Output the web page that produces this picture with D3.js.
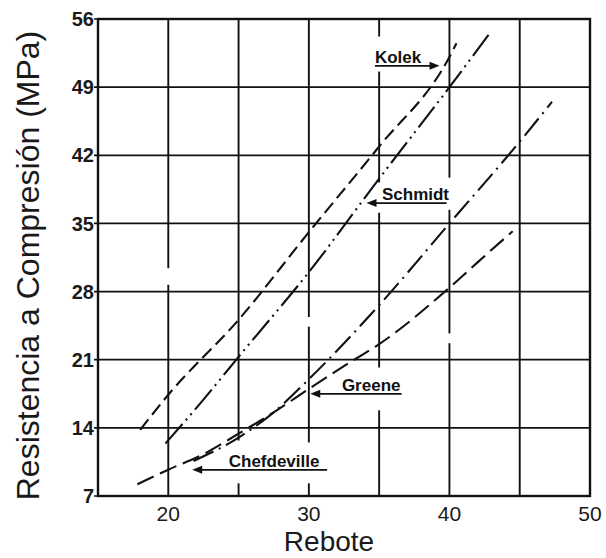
<!DOCTYPE html>
<html><head><meta charset="utf-8">
<script src="https://cdn.jsdelivr.net/npm/d3@7"></script>
<style>
html,body{margin:0;padding:0;background:#fff;}
svg{display:block;font-family:"Liberation Sans",Arial,sans-serif;}
</style></head>
<body>
<script>
// ---- data ----
const yTicks = [7, 14, 21, 28, 35, 42, 49, 56];
const xTickLabels = [20, 30, 40, 50];
const xGrid = [20, 25, 30, 35, 40, 45];

const kolekX = [18, 20, 25, 30, 35, 40, 40.5];
const kolekY = [13.8, 17.4, 25.1, 34.1, 42.9, 52.1, 53.5];

const schmidtX = [19.8, 22.5, 25, 30, 35, 40, 42.9];
const schmidtY = [12.4, 16.9, 21.3, 30.0, 39.6, 49.0, 54.6];

const greeneX = [21.8, 25, 27.5, 30, 35, 40, 45, 47.3];
const greeneY = [10.6, 13.0, 15.6, 19.0, 26.6, 35.0, 43.4, 47.5];

const chefX = [17.8, 20, 22.5, 25, 27.5, 30, 33, 35, 40, 42, 44.5];
const chefY = [8.2, 9.7, 11.3, 13.4, 15.6, 18.0, 20.8, 22.6, 28.4, 31.0, 34.2];

const curveNames = ["Kolek", "Schmidt", "Greene", "Chefdeville"];
// label annotations (data units): text x, baseline y, arrow tip x, underline end x
const labelX = [34.7, 35.2, 32.35, 24.3];
const labelY = [51.5, 37.4, 17.8, 10.0];
const arrowTipX = [39.3, 34.1, 30.1, 21.7];
const lineEndX = [38.9, 39.8, 36.6, 31.3];

// gaps in the vertical grid lines: [x, yFrom, yTo]
const gridGaps = [[20, 28.7, 30.4], [25, 8.3, 12.7], [30, 8.3, 12.5], [30, 24.4, 25.4],
  [35, 50.6, 54.2], [35, 36.1, 39.2], [35, 15.8, 20.2], [40, 36.4, 39.7], [40, 22.7, 23.7]];

// ---- layout ----
const W = 606, H = 558;
const x = d3.scaleLinear().domain([15, 50]).range([98, 590]);
const y = d3.scaleLinear().domain([7, 56]).range([496, 19]);

const svg = d3.select("body").append("svg").attr("width", W).attr("height", H);
const ink = "#111";

// horizontal grid lines (extending slightly left of axis as ticks)
svg.append("g").selectAll("line").data(yTicks).join("line")
  .attr("x1", x(15) - 4).attr("x2", x(50))
  .attr("y1", d => y(d)).attr("y2", d => y(d))
  .attr("stroke", ink).attr("stroke-width", 1.7);

// vertical grid lines with gaps
const vseg = [];
xGrid.forEach(v => {
  const gs = gridGaps.filter(g => g[0] === v).map(g => [g[1], g[2]]).sort((a, b) => a[0] - b[0]);
  let start = 7;
  gs.forEach(g => { vseg.push([v, start, g[0]]); start = g[1]; });
  vseg.push([v, start, 56]);
});
svg.append("g").selectAll("line").data(vseg).join("line")
  .attr("x1", d => x(d[0])).attr("x2", d => x(d[0]))
  .attr("y1", d => y(d[1])).attr("y2", d => y(d[2]))
  .attr("stroke", ink).attr("stroke-width", 1.9);

// frame
svg.append("rect").attr("x", x(15)).attr("y", y(56))
  .attr("width", x(50) - x(15)).attr("height", y(7) - y(56))
  .attr("fill", "none").attr("stroke", ink).attr("stroke-width", 2.4);

// y tick labels
svg.append("g").selectAll("text").data(yTicks).join("text")
  .attr("x", 94).attr("y", d => y(d)).attr("dy", "0.36em")
  .attr("text-anchor", "end").attr("font-size", 20).attr("font-weight", "bold")
  .attr("fill", "#1a1a1a").text(d => d);

// x tick labels
svg.append("g").selectAll("text").data(xTickLabels).join("text")
  .attr("x", d => x(d)).attr("y", 521)
  .attr("text-anchor", "middle").attr("font-size", 21)
  .attr("fill", "#1a1a1a").text(d => d);

// axis titles
svg.append("text").attr("transform", `translate(39,${(y(7) + y(56)) / 2 + 8}) rotate(-90)`)
  .attr("text-anchor", "middle").attr("font-size", 32).attr("fill", "#1a1a1a")
  .text("Resistencia a Compresión (MPa)");
svg.append("text").attr("x", 329).attr("y", 551)
  .attr("text-anchor", "middle").attr("font-size", 28).attr("fill", "#1a1a1a")
  .text("Rebote");

// curves
const line = d3.line().x(d => x(d[0])).y(d => y(d[1])).curve(d3.curveMonotoneX);
const series = [
  [kolekX, kolekY, "13,6"],
  [schmidtX, schmidtY, "26,5,2,5,2,5"],
  [greeneX, greeneY, "22,6,2,6"],
  [chefX, chefY, "18,7"]
];
svg.append("g").selectAll("path").data(series).join("path")
  .attr("d", s => line(s[0].map((v, i) => [v, s[1][i]])))
  .attr("fill", "none").attr("stroke", ink).attr("stroke-width", 2.1)
  .attr("stroke-dasharray", s => s[2]);

// annotations
const ann = svg.append("g");
curveNames.forEach((name, i) => {
  const ly = y(labelY[i]) + 3;
  const endX = x(lineEndX[i]);
  const tip = x(arrowTipX[i]);
  const leftArrow = arrowTipX[i] < labelX[i];
  ann.append("line").attr("x1", leftArrow ? tip + 6 : x(labelX[i]))
    .attr("x2", leftArrow ? endX : tip - 6)
    .attr("y1", ly).attr("y2", ly).attr("stroke", ink).attr("stroke-width", 1.8);
  const dir = leftArrow ? 1 : -1;
  ann.append("path")
    .attr("d", `M${tip},${ly} L${tip + dir * 10},${ly - 4} L${tip + dir * 10},${ly + 4} Z`)
    .attr("fill", ink);
  ann.append("text").attr("x", x(labelX[i])).attr("y", y(labelY[i]))
    .attr("font-size", 17).attr("font-weight", "bold").attr("fill", "#111")
    .text(name);
});
</script>
</body></html>
